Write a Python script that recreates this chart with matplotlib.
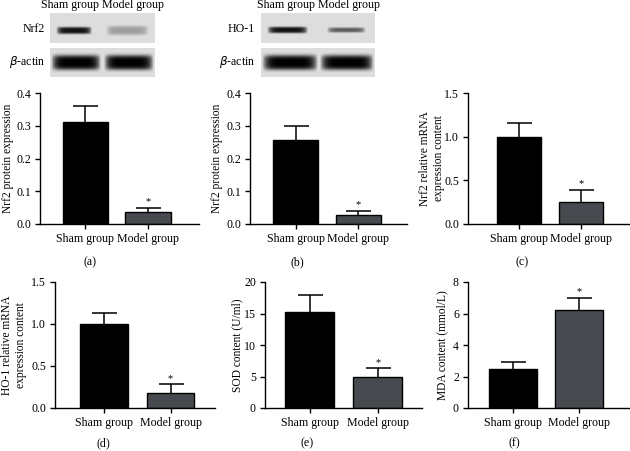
import numpy as np
import matplotlib
matplotlib.use("Agg")
import matplotlib.pyplot as plt

plt.rcParams["font.family"] = ["Liberation Serif", "DejaVu Serif"]
plt.rcParams["font.size"] = 8.6

W, H = 630, 451

groups = ["Sham group", "Model group"]

# values (bar height, top of error bar)
nrf2_prot = [0.31, 0.038]
nrf2_prot_top = [0.36, 0.05]
ho1_prot = [0.258, 0.028]
ho1_prot_top = [0.30, 0.04]
nrf2_mrna = [1.0, 0.25]
nrf2_mrna_top = [1.16, 0.39]
ho1_mrna = [1.0, 0.18]
ho1_mrna_top = [1.13, 0.28]
sod = [15.2, 5.0]
sod_top = [18.0, 6.3]
mda = [2.45, 6.25]
mda_top = [2.95, 7.0]

ylabels = ["Nrf2 protein expression", "Nrf2 protein expression",
           "Nrf2 relative mRNA\nexpression content",
           "HO-1 relative mRNA\nexpression content",
           "SOD content (U/ml)", "MDA content (mmol/L)"]
yticks = [[0, 0.1, 0.2, 0.3, 0.4], [0, 0.1, 0.2, 0.3, 0.4],
          [0, 0.5, 1.0, 1.5], [0, 0.5, 1.0, 1.5],
          [0, 5, 10, 15, 20], [0, 2, 4, 6, 8]]
yfmt = ["{:.1f}", "{:.1f}", "{:.1f}", "{:.1f}", "{:.0f}", "{:.0f}"]
panel_tags = ["(a)", "(b)", "(c)", "(d)", "(e)", "(f)"]

values = [nrf2_prot, ho1_prot, nrf2_mrna, ho1_mrna, sod, mda]
tops = [nrf2_prot_top, ho1_prot_top, nrf2_mrna_top, ho1_mrna_top, sod_top, mda_top]

# layout in pixels: (left, right, top, bottom), xlim, ylabel x, tag position
boxes = [(40, 199, 93, 224), (250, 407, 93, 224), (468, 630, 93, 224),
         (55, 215, 282, 408), (265, 422, 282, 408), (468, 630, 282, 408)]
xlims = [(-0.72, 1.81), (-0.73, 1.78), (-0.82, 1.79),
         (-0.74, 1.67), (-0.66, 1.65), (-0.68, 1.77)]
ylab_x = [8, 217, 432, 14, 237, 442]
tag_pos = [(90, 262), (297, 262), (522, 262), (103, 443), (307, 443), (514, 443)]
colors = ["#000000", "#474b4f"]

fig = plt.figure(figsize=(W / 100, H / 100), dpi=100)

for i in range(6):
    l, r, t, b = boxes[i]
    ax = fig.add_axes([l / W, (H - b) / H, (r - l) / W, (b - t) / H])
    x = np.arange(len(groups))
    vals = values[i]
    err = [tops[i][k] - vals[k] for k in range(2)]
    eb = ax.errorbar(x, vals, yerr=[[0, 0], err], fmt="none", ecolor="black",
                     elinewidth=1.1, capsize=9, capthick=1.1, zorder=1)
    eb[1][0].set_visible(False)  # no cap at the bar top
    ax.bar(x, vals, width=0.72, color=colors, edgecolor="black", linewidth=1, zorder=2)
    ytop = yticks[i][-1]
    ax.text(1, tops[i][1] + ytop * 0.012, "*", ha="center", va="bottom", fontsize=7.5)
    ax.set_ylim(0, ytop)
    ax.set_xlim(*xlims[i])
    ax.set_yticks(yticks[i])
    ax.set_yticklabels([yfmt[i].format(v) for v in yticks[i]])
    ax.set_xticks(x)
    ax.set_xticklabels(groups)
    ax.set_ylabel(ylabels[i], fontsize=8.3, va="center")
    ax.yaxis.set_label_coords((ylab_x[i] - l) / (r - l), 0.5)
    for s in ["top", "right"]:
        ax.spines[s].set_visible(False)
    ax.spines["left"].set_linewidth(1)
    ax.spines["bottom"].set_linewidth(1)
    ax.tick_params(direction="out", length=3.5, width=1, pad=3)
    ax.patch.set_alpha(0)
    fig.text(tag_pos[i][0] / W, 1 - tag_pos[i][1] / H, panel_tags[i],
             ha="center", va="center")

# western blot strips on top of (a) and (b)
ov = fig.add_axes([0, 0, 1, 1], zorder=-1)
ov.set_xlim(0, W)
ov.set_ylim(H, 0)
ov.axis("off")


def blot(x0, x1, y0, y1, bands):
    nx, ny = int(x1 - x0) * 2, int(y1 - y0) * 2
    xx = np.linspace(x0, x1, nx)
    yy = np.linspace(y0, y1, ny)
    X, Y = np.meshgrid(xx, yy)
    img = np.full(X.shape, 0.87)
    for bx0, bx1, cy, hh, depth in bands:
        cx = (bx0 + bx1) / 2
        hw = (bx1 - bx0) / 2
        fx = np.clip(1 - (np.abs(X - cx) / hw) ** 6, 0, 1)
        fy = np.exp(-((Y - cy) / hh) ** 4)
        img -= depth * fx * fy
    img = np.clip(img, 0, 1)
    ov.imshow(img, cmap="gray", vmin=0, vmax=1, extent=(x0, x1, y1, y0),
              aspect="auto", interpolation="bilinear")


blot(50, 155, 13, 43, [(56, 92, 30.5, 3.5, 0.8), (106, 149, 30.5, 4.5, 0.25)])
blot(50, 155, 48, 77, [(51, 101, 62.5, 7.5, 0.87), (104, 154, 62.5, 7.5, 0.87)])
blot(261, 375, 13, 43, [(267, 308, 30, 3.2, 0.8), (327, 366, 30, 2.5, 0.5)])
blot(261, 375, 48, 77, [(262, 318, 62.5, 7.5, 0.87), (320, 374, 62.5, 7.5, 0.87)])

for cx, txt in [(70, "Sham group"), (133, "Model group"),
                (286, "Sham group"), (349, "Model group")]:
    ov.text(cx, 5, txt, ha="center", va="center")
ov.text(45, 29, "Nrf2", ha="right", va="center")
ov.text(45, 62, r"$\beta$-actin", ha="right", va="center")
ov.text(255, 29, "HO-1", ha="right", va="center")
ov.text(255, 62, r"$\beta$-actin", ha="right", va="center")

fig.savefig("out.png", dpi=100)
